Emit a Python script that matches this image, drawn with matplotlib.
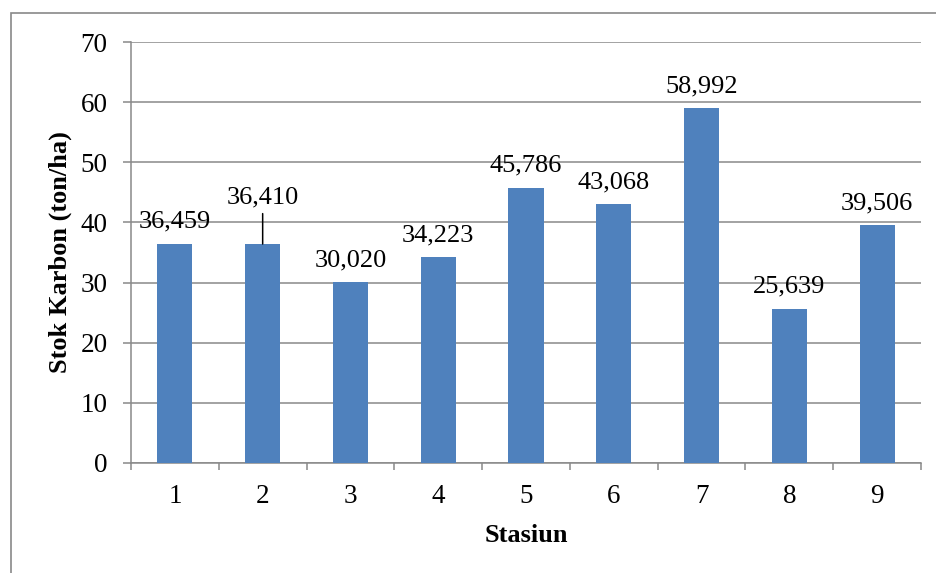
import matplotlib
matplotlib.use("Agg")
import matplotlib.pyplot as plt
from matplotlib.patches import Rectangle
import numpy as np

stations = ["1", "2", "3", "4", "5", "6", "7", "8", "9"]
stok_karbon = [36.459, 36.410, 30.020, 34.223, 45.786, 43.068, 58.992, 25.639, 39.506]
y_ticks = [0, 10, 20, 30, 40, 50, 60, 70]
leader_station = "2"

plt.rcParams['font.family'] = ['Liberation Serif', 'DejaVu Serif']

fig = plt.figure(figsize=(9.36, 5.73), dpi=100)
ax = fig.add_axes([131/936, 1 - 463/573, 790/936, 421/573])

x = np.arange(len(stations))
ax.bar(x, stok_karbon, width=0.4, color='#4F81BD', zorder=3)

grid_c = '#898989'
ax.set_ylim(0, 70)
ax.set_xlim(-0.5, len(stations) - 0.5)
ax.set_yticks(y_ticks)
ax.set_yticklabels([str(t) for t in y_ticks], fontsize=19.5)
ax.set_xticks(x)
ax.set_xticklabels(stations, fontsize=19.5)
ax.set_xticks(np.arange(-0.5, len(stations)), minor=True)
ax.yaxis.grid(True, color=grid_c, lw=1.1, zorder=1)
ax.set_axisbelow(True)

for s in ['top', 'right']:
    ax.spines[s].set_visible(False)
for s in ['left', 'bottom']:
    ax.spines[s].set_color(grid_c)
    ax.spines[s].set_linewidth(1.1)

ax.tick_params(axis='y', direction='out', length=6, width=1.1, color=grid_c, pad=11)
ax.tick_params(axis='x', which='major', length=0, pad=15)
ax.tick_params(axis='x', which='minor', direction='out', length=5, width=1.1, color=grid_c)

for xi, v, st in zip(x, stok_karbon, stations):
    lab = f"{v:.3f}".replace('.', ',')
    if st == leader_station:
        ax.annotate(lab, xy=(xi, v), xytext=(0, 29.5), textcoords='offset points',
                    ha='center', va='baseline', fontsize=19,
                    arrowprops=dict(arrowstyle='-', color='black', lw=1.1,
                                    shrinkA=2, shrinkB=0), zorder=4)
    else:
        ax.annotate(lab, xy=(xi, v), xytext=(0, 11.5), textcoords='offset points',
                    ha='center', va='baseline', fontsize=19, zorder=4)

ax.set_xlabel("Stasiun", fontsize=19, fontweight='bold')
ax.set_ylabel("Stok Karbon (ton/ha)", fontsize=19, fontweight='bold')
ax.xaxis.set_label_coords(0.5, (463 - 524) / 421)
ax.yaxis.set_label_coords((72 - 131) / 790, 0.5)

fig.patches.append(Rectangle((10.5/936, -0.1), 2.0, 1.1 - 13/573,
                             transform=fig.transFigure, fill=False,
                             edgecolor=grid_c, lw=1.2))

fig.savefig("out.png", dpi=100)
